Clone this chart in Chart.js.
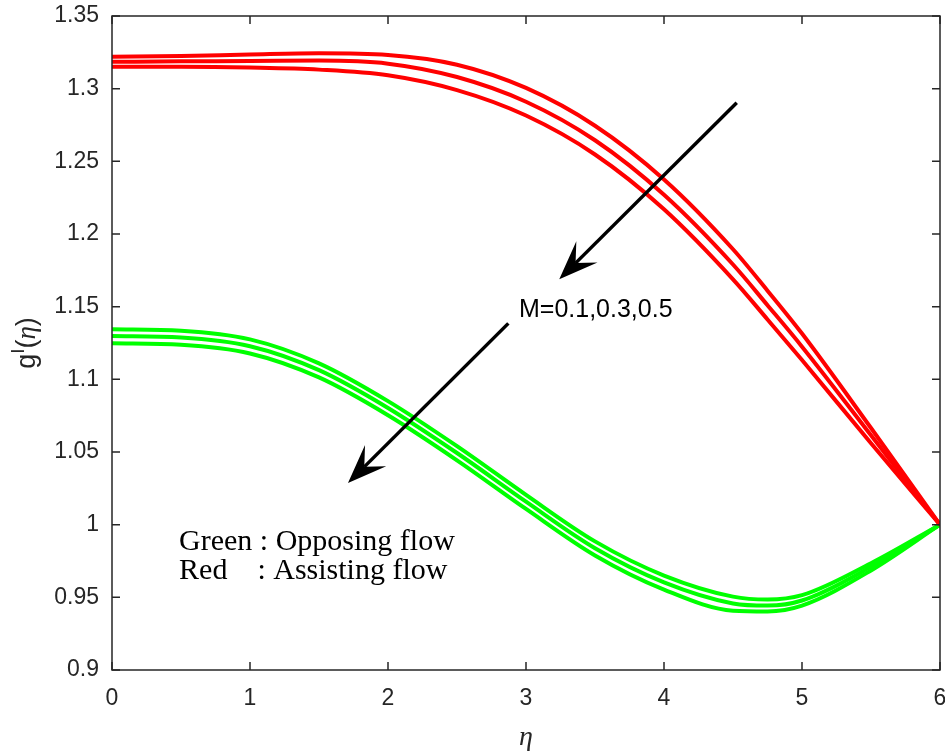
<!DOCTYPE html>
<html>
<head>
<meta charset="utf-8">
<script src="https://cdn.jsdelivr.net/npm/chart.js@4.4.0/dist/chart.umd.min.js"></script>
<style>
  html, body { margin: 0; padding: 0; background: #fff; }
  #wrap { width: 945px; height: 756px; }
</style>
</head>
<body>
<div id="wrap"><canvas id="chart" width="945" height="756"></canvas></div>
<script>
// ─── DATA ───────────────────────────────────────────────────────
const eta = [0, 0.5, 1, 1.5, 2, 2.5, 3, 3.5, 4, 4.5, 4.75, 5, 5.5, 6];

// assisting flow (red), M = 0.1, 0.3, 0.5
const redM01 = [1.322, 1.3225, 1.3235, 1.3243, 1.3232, 1.3165, 1.3005, 1.2745, 1.2375, 1.1895, 1.161, 1.1315, 1.0665, 1.0];
const redM03 = [1.3185, 1.3188, 1.319, 1.3193, 1.3172, 1.308, 1.291, 1.2645, 1.227, 1.179, 1.151, 1.1225, 1.0615, 1.0];
const redM05 = [1.315, 1.315, 1.3145, 1.3131, 1.3092, 1.299, 1.2815, 1.2547, 1.217, 1.1688, 1.1412, 1.1133, 1.056, 1.0];

// opposing flow (green), M = 0.1, 0.3, 0.5
const greenM01 = [1.1345, 1.1335, 1.1275, 1.111, 1.085, 1.054, 1.0205, 0.9885, 0.965, 0.9505, 0.9485, 0.9515, 0.9735, 1.0];
const greenM03 = [1.1298, 1.1288, 1.1228, 1.1063, 1.0803, 1.0493, 1.0158, 0.9838, 0.9603, 0.9458, 0.9443, 0.9478, 0.971, 1.0];
const greenM05 = [1.1248, 1.1238, 1.1178, 1.1013, 1.0753, 1.0443, 1.0108, 0.9788, 0.9553, 0.9408, 0.9403, 0.9443, 0.9685, 1.0];

const xTicks = [0, 1, 2, 3, 4, 5, 6];
const xTickLabels = ["0", "1", "2", "3", "4", "5", "6"];
const yTicks = [0.9, 0.95, 1, 1.05, 1.1, 1.15, 1.2, 1.25, 1.3, 1.35];
const yTickLabels = ["0.9", "0.95", "1", "1.05", "1.1", "1.15", "1.2", "1.25", "1.3", "1.35"];

// annotation arrows, in data units (tail -> tip)
const arrows = [
  { from: [4.527, 1.2903], to: [3.241, 1.1688] },
  { from: [2.872, 1.1385], to: [1.71, 1.0286] },
];

const INK = "#262626";

// ─── HELPERS ────────────────────────────────────────────────────
function series(label, values, color) {
  return {
    label,
    data: eta.map((x, i) => ({ x, y: values[i] })),
    borderColor: color,
    backgroundColor: color,
    borderWidth: 4,
    pointRadius: 0,
    cubicInterpolationMode: "monotone",
    fill: false,
  };
}

function drawArrow(ctx, x0, y0, x1, y1) {
  const dx = x0 - x1, dy = y0 - y1;
  const len = Math.hypot(dx, dy);
  const ux = dx / len, uy = dy / len;   // tip -> tail
  const nx = -uy, ny = ux;
  const L = 39, W = 15, N = 23;
  ctx.beginPath();
  ctx.moveTo(x0, y0);
  ctx.lineTo(x1 + ux * N, y1 + uy * N);
  ctx.stroke();
  ctx.beginPath();
  ctx.moveTo(x1, y1);
  ctx.lineTo(x1 + ux * L + nx * W, y1 + uy * L + ny * W);
  ctx.lineTo(x1 + ux * N, y1 + uy * N);
  ctx.lineTo(x1 + ux * L - nx * W, y1 + uy * L - ny * W);
  ctx.closePath();
  ctx.fill();
}

// ─── FRAME, TICKS, LABELS, ANNOTATIONS ──────────────────────────
const decor = {
  id: "decor",
  afterDatasetsDraw(chart) {
    const { ctx, chartArea: a, scales: { x, y } } = chart;
    ctx.save();

    // box + inward ticks on all sides
    ctx.strokeStyle = INK;
    ctx.lineWidth = 1.5;
    ctx.strokeRect(a.left, a.top, a.right - a.left, a.bottom - a.top);
    ctx.beginPath();
    xTicks.forEach((v) => {
      const px = x.getPixelForValue(v);
      ctx.moveTo(px, a.bottom); ctx.lineTo(px, a.bottom - 8);
      ctx.moveTo(px, a.top); ctx.lineTo(px, a.top + 8);
    });
    yTicks.forEach((v) => {
      const py = y.getPixelForValue(v);
      ctx.moveTo(a.left, py); ctx.lineTo(a.left + 8, py);
      ctx.moveTo(a.right, py); ctx.lineTo(a.right - 8, py);
    });
    ctx.stroke();

    // arrows
    ctx.strokeStyle = "#000";
    ctx.fillStyle = "#000";
    ctx.lineWidth = 3.5;
    arrows.forEach((ar) => {
      drawArrow(ctx,
        x.getPixelForValue(ar.from[0]), y.getPixelForValue(ar.from[1]),
        x.getPixelForValue(ar.to[0]), y.getPixelForValue(ar.to[1]));
    });

    // text annotations
    ctx.textAlign = "left";
    ctx.textBaseline = "alphabetic";
    ctx.font = '25px "Liberation Sans", Arial, sans-serif';
    ctx.fillText("M=0.1,0.3,0.5", x.getPixelForValue(2.949), y.getPixelForValue(1.1428));
    ctx.font = '30px "Liberation Serif", "Times New Roman", serif';
    ctx.fillText("Green : Opposing flow", x.getPixelForValue(0.486), y.getPixelForValue(0.9825));
    ctx.fillText("Red    : Assisting flow", x.getPixelForValue(0.486), y.getPixelForValue(0.9625));

    // x axis title
    ctx.fillStyle = INK;
    ctx.textAlign = "center";
    ctx.font = 'italic 28px "Liberation Serif", serif';
    ctx.fillText("\u03b7", (a.left + a.right) / 2, 745);

    // y axis title  g^I(η)
    ctx.translate(35, (a.top + a.bottom) / 2);
    ctx.rotate(-Math.PI / 2);
    const big = '27px "Liberation Sans", Arial, sans-serif';
    const sup = '19px "Liberation Sans", Arial, sans-serif';
    const etaFont = 'italic 27px "Liberation Serif", serif';
    const parts = [["g", big, 0], ["I", sup, -11], ["(", big, 0], ["\u03b7", etaFont, 0], [")", big, 0]];
    let total = 0;
    parts.forEach((p) => { ctx.font = p[1]; total += ctx.measureText(p[0]).width; });
    let cx = -total / 2;
    ctx.textAlign = "left";
    parts.forEach((p) => {
      ctx.font = p[1];
      ctx.fillText(p[0], cx, p[2]);
      cx += ctx.measureText(p[0]).width;
    });

    ctx.restore();
  },
};

// ─── CHART ──────────────────────────────────────────────────────
const tickFont = { family: '"Liberation Sans", Arial, sans-serif', size: 23 };

new Chart(document.getElementById("chart"), {
  type: "line",
  data: {
    datasets: [
      series("Assisting M=0.1", redM01, "#ff0000"),
      series("Assisting M=0.3", redM03, "#ff0000"),
      series("Assisting M=0.5", redM05, "#ff0000"),
      series("Opposing M=0.1", greenM01, "#00ff00"),
      series("Opposing M=0.3", greenM03, "#00ff00"),
      series("Opposing M=0.5", greenM05, "#00ff00"),
    ],
  },
  options: {
    responsive: false,
    animation: false,
    layout: { autoPadding: false, padding: { left: 0, top: 16, right: 5, bottom: 0 } },
    plugins: { legend: { display: false }, tooltip: { enabled: false } },
    scales: {
      x: {
        type: "linear",
        min: 0,
        max: 6,
        afterBuildTicks: (s) => { s.ticks = xTicks.map((v) => ({ value: v })); },
        afterFit: (s) => { s.height = 86; s.paddingLeft = 0; s.paddingRight = 0; },
        ticks: {
          font: tickFont,
          color: INK,
          padding: 15,
          maxRotation: 0,
          autoSkip: false,
          callback: (v) => xTickLabels[xTicks.indexOf(v)],
        },
        grid: { display: false, drawTicks: false },
        border: { display: false },
      },
      y: {
        type: "linear",
        min: 0.9,
        max: 1.35,
        afterBuildTicks: (s) => { s.ticks = yTicks.map((v) => ({ value: v })); },
        afterFit: (s) => { s.width = 112; s.paddingTop = 0; s.paddingBottom = 0; },
        ticks: {
          font: tickFont,
          color: INK,
          padding: 13,
          autoSkip: false,
          callback: (v) => yTickLabels[yTicks.findIndex((t) => Math.abs(t - v) < 1e-9)],
        },
        grid: { display: false, drawTicks: false },
        border: { display: false },
      },
    },
  },
  plugins: [decor],
});
</script>
</body>
</html>
